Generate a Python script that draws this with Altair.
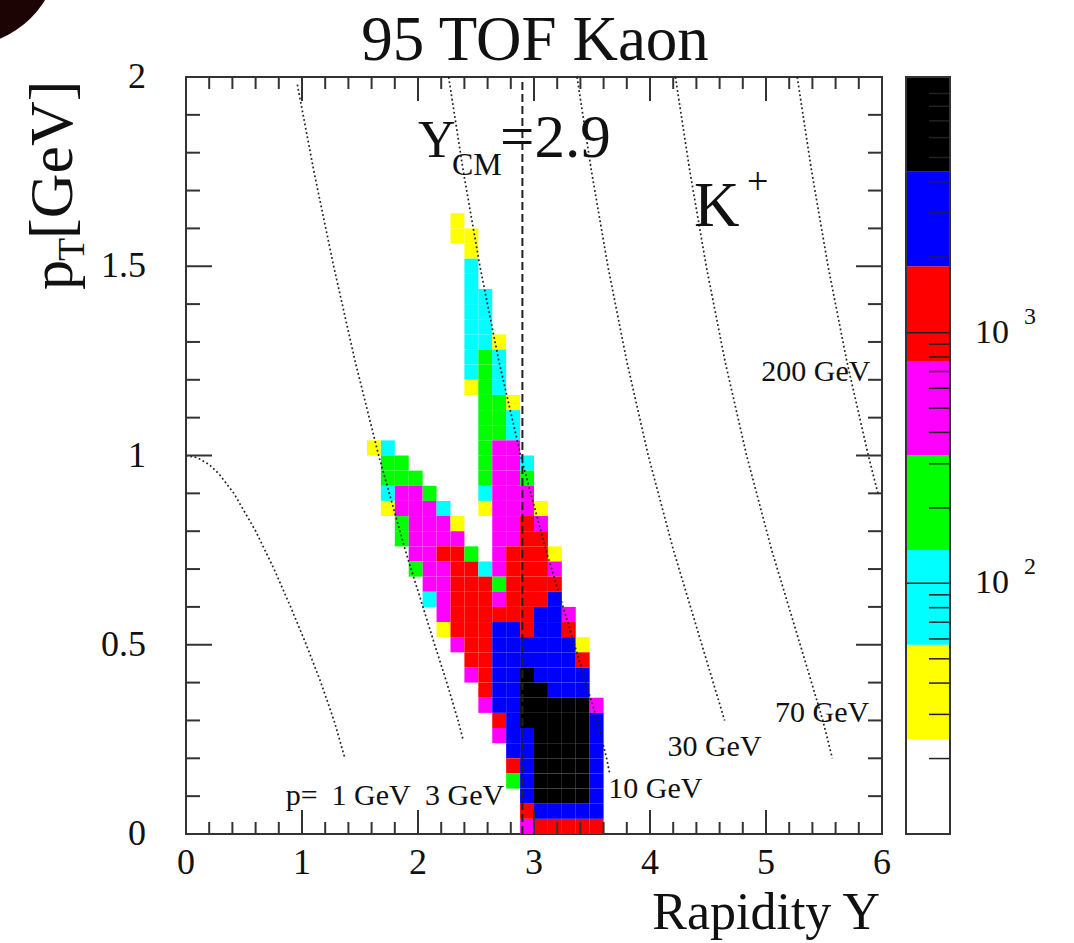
import altair as alt
import pandas as pd

# ---------------------------------------------------------------------------
# K+ yield in (rapidity, pT): 50 x 50 bins over 0<Y<6, 0<pT<2
# ---------------------------------------------------------------------------
Y_BIN = 0.12
PT_BIN = 0.04
FIRST_COL = 13  # first rapidity bin that appears in the row strings

# z-axis colour bands (counts), lowest to highest
band_edges = [10, 23.85, 56.89, 135.7, 323.6, 771.7, 1841, 4390, 10471]
band_colors = ["#ffffff", "#ffff00", "#00ffff", "#00ff00",
               "#ff00ff", "#ff0000", "#0000ff", "#000000"]

# representative bin content for each band letter
band_counts = {"Y": 35, "C": 90, "G": 210, "M": 500,
               "R": 1200, "B": 2800, "K": 7000}

# one string per pT row, one character per rapidity bin (from bin 13 on)
hist_rows = {
    40: "......Y..........",
    39: "......YY.........",
    38: ".......Y.........",
    37: ".......C.........",
    36: ".......C.........",
    35: ".......CC........",
    34: ".......CC........",
    33: ".......CC........",
    32: ".......CCY.......",
    31: ".......CGC.......",
    30: ".......CGC.......",
    29: ".......YGC.......",
    28: "........GGY......",
    27: "........GGC......",
    26: "........GGC......",
    25: "YC......GMM......",
    24: ".GG.....GMMC.....",
    23: ".GGG....GMMG.....",
    22: ".CMMG...CMMM.....",
    21: ".YMMMC..YMMMY....",
    20: "..GMMMY..MMRM....",
    19: "..GMMMM..MMRR....",
    18: "...MMRRG.MRRRY...",
    17: "...GMMRRCMRRRM...",
    16: "....MMRRRGRRRR...",
    15: "....CMRRRMRRRB...",
    14: ".....MRRRRRRBBM..",
    13: ".....YRRRBBRBBR..",
    12: "......MRRBBBBBBY.",
    11: ".......RRBBBBBBR.",
    10: ".......MRBBKBBBB.",
    9:  "........RBBKKBBB.",
    8:  "........MBBKKKKKM",
    7:  ".........RBKKKKKB",
    6:  ".........MBBKKKKB",
    5:  "..........BBKKKKB",
    4:  "..........RBKKKKB",
    3:  "..........GBKKKKB",
    2:  "...........BKKKKB",
    1:  "...........RBBBBB",
    0:  "...........MRRRRR",
}

cells = []
for row, codes in hist_rows.items():
    for k, code in enumerate(codes):
        if code == ".":
            continue
        col = FIRST_COL + k
        cells.append({"y0": col * Y_BIN, "y1": (col + 1) * Y_BIN,
                      "pt0": row * PT_BIN, "pt1": (row + 1) * PT_BIN,
                      "count": band_counts[code]})
hist = pd.DataFrame(cells)

# ---------------------------------------------------------------------------
# Lines of constant kaon momentum (rapidity, pT)
# ---------------------------------------------------------------------------
p1_y = [0.0, 0.1, 0.2, 0.288, 0.413, 0.601, 0.759, 0.902, 1.037, 1.163, 1.276, 1.37]
p1_pt = [1.0, 0.994, 0.976, 0.95, 0.9, 0.8, 0.7, 0.6, 0.5, 0.4, 0.3, 0.2]
p3_y = [0.96, 1.103, 1.273, 1.457, 1.661, 1.89, 2.144, 2.248, 2.345, 2.388]
p3_pt = [1.98, 1.75, 1.5, 1.25, 1.0, 0.75, 0.5, 0.4, 0.3, 0.25]
p10_y = [2.264, 2.391, 2.534, 2.697, 2.885, 3.103, 3.349, 3.545, 3.626, 3.652]
p10_pt = [2.0, 1.75, 1.5, 1.25, 1.0, 0.75, 0.5, 0.3, 0.2, 0.16]
p30_y = [3.371, 3.496, 3.637, 3.799, 3.985, 4.202, 4.447, 4.643]
p30_pt = [2.0, 1.75, 1.5, 1.25, 1.0, 0.75, 0.5, 0.3]
p70_y = [4.219, 4.344, 4.485, 4.646, 4.833, 5.049, 5.295, 5.49, 5.572]
p70_pt = [2.0, 1.75, 1.5, 1.25, 1.0, 0.75, 0.5, 0.3, 0.2]
p200_y = [5.269, 5.394, 5.535, 5.696, 5.882, 5.965]
p200_pt = [2.0, 1.75, 1.5, 1.25, 1.0, 0.9]

curves = []
for name, ys_, pts in [("1", p1_y, p1_pt), ("3", p3_y, p3_pt), ("10", p10_y, p10_pt),
                       ("30", p30_y, p30_pt), ("70", p70_y, p70_pt),
                       ("200", p200_y, p200_pt)]:
    for i, (yv, pv) in enumerate(zip(ys_, pts)):
        curves.append({"p": name, "Y": yv, "pT": pv, "i": i})
curves = pd.DataFrame(curves)

y_cm = 2.9

# axis ticks and labels
x_labels = [0, 1, 2, 3, 4, 5, 6]
y_labels = [0, 0.5, 1, 1.5, 2]
x_major = [1, 2, 3, 4, 5]
x_minor = [0.2, 0.4, 0.6, 0.8, 1.2, 1.4, 1.6, 1.8, 2.2, 2.4, 2.6, 2.8,
           3.2, 3.4, 3.6, 3.8, 4.2, 4.4, 4.6, 4.8, 5.2, 5.4, 5.6, 5.8]
y_major = [0.5, 1.0, 1.5]
y_minor = [0.1, 0.2, 0.3, 0.4, 0.6, 0.7, 0.8, 0.9,
           1.1, 1.2, 1.3, 1.4, 1.6, 1.7, 1.8, 1.9]
z_major = [100, 1000]
z_minor = [20, 30, 40, 50, 60, 70, 80, 90, 200, 300, 400, 500, 600, 700,
           800, 900, 2000, 3000, 4000, 5000, 6000, 7000, 8000, 9000]

# momentum labels
mom_labels = pd.DataFrame({
    "text": ["p=", "1 GeV", "3 GeV", "10 GeV", "30 GeV", "70 GeV", "200 GeV"],
    "Y": [0.86, 1.255, 2.06, 3.64, 4.15, 5.89, 5.9],
    "pT": [0.10, 0.10, 0.10, 0.12, 0.23, 0.32, 1.22],
    "align": ["left", "left", "left", "left", "left", "right", "right"],
})

# ---------------------------------------------------------------------------
W, H = 696, 757
FONT = "Liberation Serif"
INK = "#111"
xs = alt.Scale(domain=[0, 6], nice=False, zero=False)
ys = alt.Scale(domain=[0, 2], nice=False, zero=False)
zs = alt.Scale(type="log", domain=[band_edges[0], band_edges[-1]], nice=False)

heat = alt.Chart(hist).mark_rect().encode(
    x=alt.X("y0:Q", scale=xs, axis=None),
    x2="y1:Q",
    y=alt.Y("pt0:Q", scale=ys, axis=None),
    y2="pt1:Q",
    color=alt.Color("count:Q", scale=alt.Scale(
        type="threshold", domain=band_edges[1:-1], range=band_colors), legend=None),
)

lines = alt.Chart(curves).mark_line(
    color="#222", strokeWidth=1.7, strokeDash=[1.8, 2.6]).encode(
    x=alt.X("Y:Q", scale=xs, axis=None),
    y=alt.Y("pT:Q", scale=ys, axis=None),
    detail="p:N", order="i:Q")

cm_line = alt.Chart(pd.DataFrame({"Y": [y_cm], "lo": [0.0], "hi": [2.0]})).mark_rule(
    color="#222", strokeWidth=2, strokeDash=[8, 4]).encode(
    x=alt.X("Y:Q", scale=xs, axis=None),
    y=alt.Y("lo:Q", scale=ys, axis=None), y2="hi:Q")


def xticks(vals, length):
    d = pd.DataFrame({"v": vals})
    bottom = alt.Chart(d).mark_rule(color="#333", strokeWidth=2).encode(
        x=alt.X("v:Q", scale=xs, axis=None), y=alt.value(H), y2=alt.value(H - length))
    top = alt.Chart(d).mark_rule(color="#333", strokeWidth=2).encode(
        x=alt.X("v:Q", scale=xs, axis=None), y=alt.value(0), y2=alt.value(length))
    return [bottom, top]


def yticks(vals, length):
    d = pd.DataFrame({"v": vals})
    left = alt.Chart(d).mark_rule(color="#333", strokeWidth=2).encode(
        y=alt.Y("v:Q", scale=ys, axis=None), x=alt.value(0), x2=alt.value(length))
    right = alt.Chart(d).mark_rule(color="#333", strokeWidth=2).encode(
        y=alt.Y("v:Q", scale=ys, axis=None), x=alt.value(W), x2=alt.value(W - length))
    return [left, right]


x_text = alt.Chart(pd.DataFrame({"v": x_labels})).mark_text(
    font=FONT, fontSize=36, align="center", baseline="middle", color=INK).encode(
    x=alt.X("v:Q", scale=xs, axis=None), y=alt.value(H + 29),
    text=alt.Text("v:Q", format="d"))
y_text = alt.Chart(pd.DataFrame({"v": y_labels})).mark_text(
    font=FONT, fontSize=36, align="right", baseline="middle", color=INK).encode(
    y=alt.Y("v:Q", scale=ys, axis=None), x=alt.value(-40),
    text=alt.Text("v:Q", format="~g"))

mom_text = [
    alt.Chart(mom_labels[mom_labels["align"] == a]).mark_text(
        font=FONT, fontSize=30, align=a, baseline="middle", color=INK).encode(
        x=alt.X("Y:Q", scale=xs, axis=None),
        y=alt.Y("pT:Q", scale=ys, axis=None), text="text:N")
    for a in ["left", "right"]
]

# colour bar
CB_L, CB_R = 720, 764
bands = pd.DataFrame({"lo": band_edges[:-1], "hi": band_edges[1:], "color": band_colors})
cbar = alt.Chart(bands).mark_rect().encode(
    x=alt.value(CB_L), x2=alt.value(CB_R),
    y=alt.Y("lo:Q", scale=zs, axis=None), y2="hi:Q",
    color=alt.Color("color:N", scale=None))
cframe = alt.Chart(pd.DataFrame({"a": [0]})).mark_rect(
    filled=False, stroke="#333", strokeWidth=2).encode(
    x=alt.value(CB_L), x2=alt.value(CB_R), y=alt.value(0), y2=alt.value(H))
zminor = alt.Chart(pd.DataFrame({"v": z_minor})).mark_rule(color="#222", strokeWidth=1.5).encode(
    y=alt.Y("v:Q", scale=zs, axis=None), x=alt.value(CB_R), x2=alt.value(CB_R - 21))
zmajor = alt.Chart(pd.DataFrame({"v": z_major})).mark_rule(color="#222", strokeWidth=1.5).encode(
    y=alt.Y("v:Q", scale=zs, axis=None), x=alt.value(CB_L), x2=alt.value(CB_R))
zlab = pd.DataFrame({"v": z_major, "exp": ["2", "3"]})
zlab10 = alt.Chart(zlab).mark_text(font=FONT, fontSize=34, align="left",
                                   baseline="middle", color=INK).encode(
    y=alt.Y("v:Q", scale=zs, axis=None), x=alt.value(789), text=alt.value("10"))
zlabexp = alt.Chart(zlab).mark_text(font=FONT, fontSize=24, align="left",
                                    baseline="middle", dy=-16, color=INK).encode(
    y=alt.Y("v:Q", scale=zs, axis=None), x=alt.value(838), text="exp:N")


def label(txt, x, y, size, align="left", angle=0, baseline="alphabetic"):
    kw = dict(font=FONT, fontSize=size, align=align, baseline=baseline, color=INK)
    if angle:
        kw["angle"] = angle
    return alt.Chart(pd.DataFrame({"t": [txt]})).mark_text(**kw).encode(
        x=alt.value(x), y=alt.value(y), text="t:N")


texts = [
    label("95 TOF Kaon", 349, -17, 63, align="center"),
    label("Rapidity Y", 694, 852, 52, align="right"),
    label("Y", 232, 80, 52),
    label("CM", 266, 98, 32),
    label("=2.9", 314, 80, 61),
    label("K", 508, 149, 63),
    label("+", 561, 117, 38),
    label("p", -114, 213, 60, angle=270),
    label("T", -102, 184, 38, angle=270),
    label("[GeV]", -114, 162, 62, angle=270),
]

corner = alt.Chart(pd.DataFrame({"a": [0]})).mark_point(
    shape="circle", filled=True, size=38000, color="#1c0404", opacity=1).encode(
    x=alt.value(-224), y=alt.value(-128))

layers = ([heat, lines, cm_line] + xticks(x_major, 24) + xticks(x_minor, 12)
          + yticks(y_major, 26) + yticks(y_minor, 14) + [x_text, y_text] + mom_text
          + [cbar, zminor, zmajor, cframe, zlab10, zlabexp] + texts + [corner])

chart = alt.layer(*layers).resolve_scale(y="independent").properties(
    width=W, height=H,
    autosize=alt.AutoSizeParams(type="none"),
    padding={"left": 186, "top": 77, "right": 192, "bottom": 109},
    background="white",
).configure_view(stroke="#333", strokeWidth=2)

chart.save("out.html", embed_options={"renderer": "svg", "actions": False})
